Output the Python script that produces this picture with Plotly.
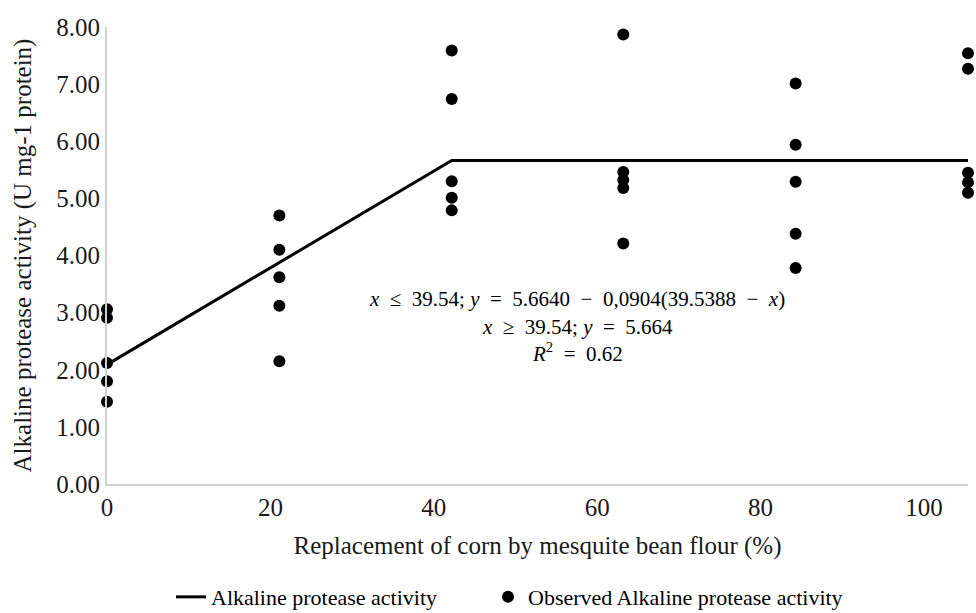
import plotly.graph_objects as go

# Observed values (replicates per replacement level)
levels = [0, 21.1, 42.2, 63.2, 84.3, 105.4]
obs_0 = [3.06, 2.91, 2.12, 1.80, 1.44]
obs_21 = [4.70, 4.10, 3.62, 3.12, 2.15]
obs_42 = [7.59, 6.74, 5.30, 5.01, 4.79]
obs_63 = [7.87, 5.46, 5.32, 5.18, 4.21]
obs_84 = [7.01, 5.94, 5.29, 4.38, 3.78]
obs_105 = [7.54, 7.27, 5.45, 5.28, 5.10]

# Broken-line fit
fit_x = [0, 42.2, 105.4]
fit_y = [2.09, 5.664, 5.664]

y_ticks = [0, 1, 2, 3, 4, 5, 6, 7, 8]
y_tick_labels = ["0.00", "1.00", "2.00", "3.00", "4.00", "5.00", "6.00", "7.00", "8.00"]
x_ticks = [0, 20, 40, 60, 80, 100]

groups = [obs_0, obs_21, obs_42, obs_63, obs_84, obs_105]
px, py = [], []
for lv, vals in zip(levels, groups):
    for v in vals:
        px.append(lv)
        py.append(v)

serif = "Liberation Serif"
txt = "#1a1a1a"

fig = go.Figure()
fig.add_trace(go.Scatter(
    x=fit_x, y=fit_y, mode="lines",
    line=dict(color="black", width=3),
    name="Alkaline protease activity",
    legend="legend",
))
fig.add_trace(go.Scatter(
    x=px, y=py, mode="markers",
    marker=dict(color="black", size=12),
    cliponaxis=False,
    name="Observed Alkaline protease activity",
    legend="legend2",
))

sp = "\u00a0"
eq_lines = [
    f"<i>x</i>{sp}{sp}≤{sp}{sp}39.54;{sp}<i>y</i>{sp}{sp}={sp}{sp}5.6640{sp}{sp}−{sp}{sp}0,0904(39.5388{sp}{sp}−{sp}{sp}<i>x</i>)",
    f"<i>x</i>{sp}{sp}≥{sp}{sp}39.54;{sp}<i>y</i>{sp}{sp}={sp}{sp}5.664",
    f"<i>R</i><sup>2</sup>{sp}{sp}={sp}{sp}0.62",
]
eq_y = [3.23, 2.74, 2.30]
for t, yy in zip(eq_lines, eq_y):
    fig.add_annotation(
        x=0.546, xref="paper", y=yy, yref="y", text=t, showarrow=False,
        font=dict(family=serif, size=21, color="black"),
        xanchor="center", yanchor="middle",
    )

leg_common = dict(
    orientation="h", xref="container", yref="container",
    xanchor="left", yanchor="middle", y=0.026,
    font=dict(family=serif, size=22, color="black"),
    bgcolor="rgba(0,0,0,0)",
)

fig.update_layout(
    width=976, height=613,
    margin=dict(l=107, r=8, t=27, b=129),
    paper_bgcolor="white", plot_bgcolor="white",
    font=dict(family=serif, size=25, color=txt),
    showlegend=True,
    legend=dict(x=0.1752, **leg_common),
    legend2=dict(x=0.5, **leg_common),
    xaxis=dict(
        range=[0, 105.4], tickvals=x_ticks, showgrid=False, zeroline=False,
        showline=True, linecolor="#d0d0d0", linewidth=2, ticks="", automargin=False,
        tickfont=dict(family=serif, size=25, color=txt),
        title=dict(text="Replacement of corn by mesquite bean flour (%)",
                   font=dict(family=serif, size=25, color=txt), standoff=16),
    ),
    yaxis=dict(
        range=[0, 8], tickvals=y_ticks, ticktext=y_tick_labels, showgrid=False,
        zeroline=False, showline=True, linecolor="#d0d0d0", linewidth=2, ticks="",
        automargin=False,
        tickfont=dict(family=serif, size=25, color=txt),
        title=dict(text="Alkaline protease activity (U mg-1 protein)",
                   font=dict(family=serif, size=25, color=txt), standoff=18),
    ),
)

# Remove the default page margin so the 976x613 figure fills the window exactly.
fig.write_html(
    "out.html",
    config={"displayModeBar": False},
    post_script="document.body.style.margin='0';document.body.style.overflow='hidden';",
)
